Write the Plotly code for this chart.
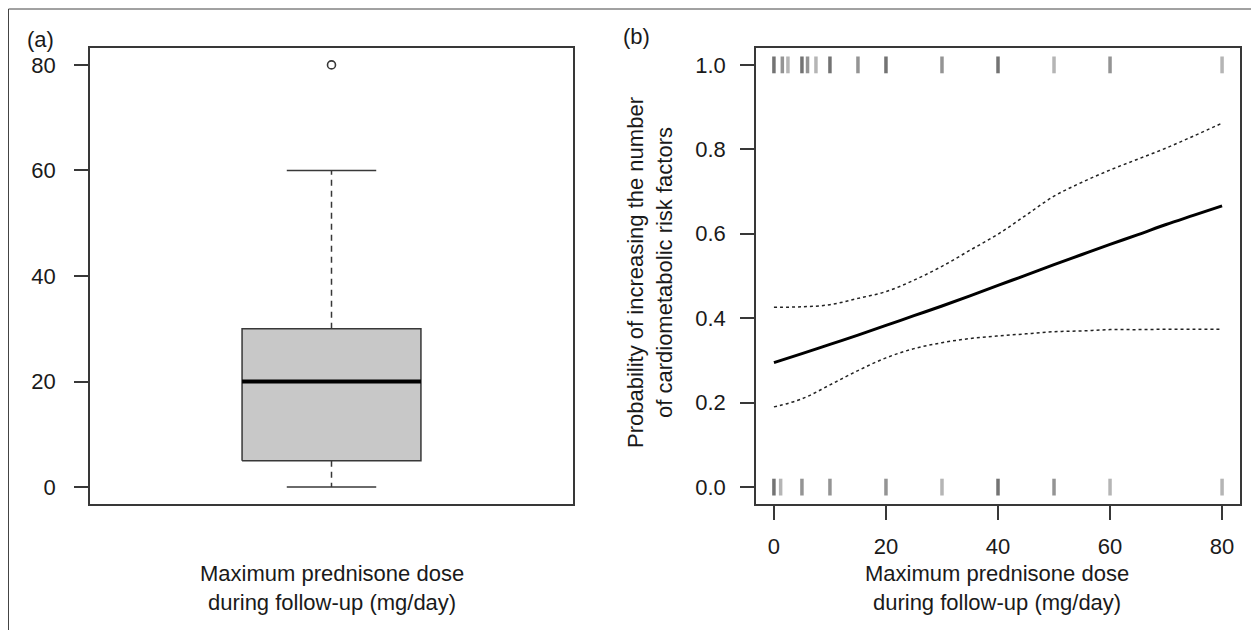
import plotly.graph_objects as go

# ---------------- data ----------------
# Panel (a): boxplot summary of maximum prednisone dose (mg/day)
box_lower_whisker = 0
box_q1 = 5
box_median = 20
box_q3 = 30
box_upper_whisker = 60
box_outliers = [80]

# Panel (b): fitted probability curve with confidence band
dose_grid = [0, 5, 10, 15, 20, 25, 30, 35, 40, 45, 50, 55, 60, 65, 70, 75, 80]
prob_fit = [0.295, 0.316, 0.338, 0.360, 0.383, 0.406, 0.429, 0.453, 0.478,
            0.502, 0.527, 0.551, 0.575, 0.598, 0.622, 0.644, 0.666]
prob_upper = [0.426, 0.427, 0.432, 0.447, 0.463, 0.490, 0.523, 0.561, 0.599,
              0.644, 0.689, 0.722, 0.751, 0.777, 0.803, 0.832, 0.862]
prob_lower = [0.190, 0.209, 0.242, 0.276, 0.306, 0.328, 0.342, 0.352, 0.358,
              0.363, 0.368, 0.370, 0.373, 0.373, 0.374, 0.374, 0.374]

# rug: observed doses with outcome 1 (top) and 0 (bottom), with counts
rug_top_dose = [0, 1.5, 2.5, 5, 6, 7.5, 10, 15, 20, 30, 40, 50, 60, 80]
rug_top_count = [3, 2, 1, 3, 2, 1, 3, 2, 3, 2, 3, 1, 2, 1]
rug_bottom_dose = [0, 1.2, 5, 10, 20, 30, 40, 50, 60, 80]
rug_bottom_count = [3, 1, 2, 2, 2, 1, 3, 2, 1, 1]

x_title = "Maximum prednisone dose<br>during follow-up (mg/day)"
y_title_b = "Probability of increasing the number<br>of cardiometabolic risk factors"

# ---------------- figure ----------------
OFF = 8                       # page body margin of the html page
W, H = 1259 - OFF, 630 - OFF
FONT = "Liberation Sans, Arial, sans-serif"
INK = "#1a1a1a"
FRAME = "#383838"


def px_x(p):
    return (p - OFF) / W


def px_y(p):
    return 1 - (p - OFF) / H


fig = go.Figure()

# ---- panel (a) boxplot drawn in R style ----
bx0, bx1 = 0.8, 1.2
cx0, cx1 = 0.9, 1.1
fig.add_trace(go.Scatter(
    x=[bx0, bx1, bx1, bx0, bx0],
    y=[box_q1, box_q1, box_q3, box_q3, box_q1],
    mode="lines", fill="toself", fillcolor="#c8c8c8",
    line=dict(color=FRAME, width=1.5), xaxis="x", yaxis="y", hoverinfo="skip"))
fig.add_trace(go.Scatter(
    x=[bx0, bx1], y=[box_median, box_median], mode="lines",
    line=dict(color="black", width=4), xaxis="x", yaxis="y"))
for a, b in [(box_q3, box_upper_whisker), (box_q1, box_lower_whisker)]:
    fig.add_trace(go.Scatter(
        x=[1, 1], y=[a, b], mode="lines",
        line=dict(color=FRAME, width=1.5, dash="6px,5px"), xaxis="x", yaxis="y"))
for v in [box_upper_whisker, box_lower_whisker]:
    fig.add_trace(go.Scatter(
        x=[cx0, cx1], y=[v, v], mode="lines",
        line=dict(color=FRAME, width=1.5), xaxis="x", yaxis="y"))
fig.add_trace(go.Scatter(
    x=[1] * len(box_outliers), y=box_outliers, mode="markers",
    marker=dict(symbol="circle-open", size=8, color=FRAME, line=dict(width=1.6)),
    xaxis="x", yaxis="y"))

# ---- panel (b) ----
def rug_colors(counts):
    return [f"rgba(90,90,90,{min(0.25 + 0.2 * c, 0.95):.2f})" for c in counts]

fig.add_trace(go.Scatter(
    x=rug_top_dose, y=[1.0] * len(rug_top_dose), mode="markers",
    marker=dict(symbol="line-ns", size=12,
                line=dict(width=3.5, color=rug_colors(rug_top_count))),
    xaxis="x2", yaxis="y2"))
fig.add_trace(go.Scatter(
    x=rug_bottom_dose, y=[0.0] * len(rug_bottom_dose), mode="markers",
    marker=dict(symbol="line-ns", size=12,
                line=dict(width=3.5, color=rug_colors(rug_bottom_count))),
    xaxis="x2", yaxis="y2"))
fig.add_trace(go.Scatter(
    x=dose_grid, y=prob_upper, mode="lines", line_shape="spline",
    line=dict(color="#222", width=1.5, dash="dot"), xaxis="x2", yaxis="y2"))
fig.add_trace(go.Scatter(
    x=dose_grid, y=prob_lower, mode="lines", line_shape="spline",
    line=dict(color="#222", width=1.5, dash="dot"), xaxis="x2", yaxis="y2"))
fig.add_trace(go.Scatter(
    x=dose_grid, y=prob_fit, mode="lines", line_shape="spline",
    line=dict(color="black", width=3), xaxis="x2", yaxis="y2"))

tickfont = dict(family=FONT, size=22, color=INK)
axis_common = dict(showline=True, mirror=True, linecolor=FRAME, linewidth=1.5,
                   showgrid=False, zeroline=False, tickfont=tickfont,
                   tickcolor=FRAME, tickwidth=1.5)

y_dom = [px_y(504), px_y(48)]
fig.update_layout(
    width=W, height=H,
    margin=dict(l=0, r=0, t=0, b=0),
    paper_bgcolor="white", plot_bgcolor="white",
    showlegend=False,
    xaxis=dict(domain=[px_x(90), px_x(573)], range=[0.46, 1.54],
               showticklabels=False, ticks="", **axis_common),
    yaxis=dict(domain=y_dom, range=[-3.2, 83.2], tickvals=[0, 20, 40, 60, 80],
               ticks="outside", ticklen=14, ticklabelstandoff=14, **axis_common),
    xaxis2=dict(domain=[px_x(756), px_x(1240)], range=[-3.2, 83.2],
                tickvals=[0, 20, 40, 60, 80], ticks="outside", ticklen=14,
                ticklabelstandoff=8, anchor="y2", **axis_common),
    yaxis2=dict(domain=y_dom, range=[-0.04, 1.04],
                tickvals=[0, 0.2, 0.4, 0.6, 0.8, 1.0], tickformat=".1f",
                ticks="outside", ticklen=14, ticklabelstandoff=10,
                anchor="x2", **axis_common),
)

ann_font = dict(family=FONT, size=22, color=INK)
fig.add_annotation(text="(a)", x=px_x(25), y=px_y(39), xref="paper", yref="paper",
                   xanchor="left", yanchor="middle", showarrow=False, font=ann_font)
fig.add_annotation(text="(b)", x=px_x(621), y=px_y(37), xref="paper", yref="paper",
                   xanchor="left", yanchor="middle", showarrow=False, font=ann_font)
fig.add_annotation(text=x_title, x=px_x(331.5), y=px_y(588), xref="paper", yref="paper",
                   xanchor="center", yanchor="middle", showarrow=False, font=ann_font)
fig.add_annotation(text=x_title, x=px_x(997), y=px_y(588), xref="paper", yref="paper",
                   xanchor="center", yanchor="middle", showarrow=False, font=ann_font)
fig.add_annotation(text=y_title_b, x=px_x(650), y=px_y(273), xref="paper", yref="paper",
                   xanchor="center", yanchor="middle", textangle=-90,
                   showarrow=False, font=ann_font)

# outer frame of the figure (bottom edge lies below the visible area)
FT = 9  # top edge of the frame (as close as the page allows)
fig.add_shape(type="line", xref="paper", yref="paper",
              x0=px_x(8.5), x1=px_x(8.5), y0=0, y1=px_y(FT),
              line=dict(color="#444", width=1))
fig.add_shape(type="line", xref="paper", yref="paper",
              x0=px_x(1256), x1=px_x(1256), y0=0, y1=px_y(FT),
              line=dict(color="#444", width=1))
fig.add_shape(type="line", xref="paper", yref="paper",
              x0=px_x(8.5), x1=px_x(1256), y0=px_y(FT), y1=px_y(FT),
              line=dict(color="#444", width=1))

fig.write_html("out.html")
